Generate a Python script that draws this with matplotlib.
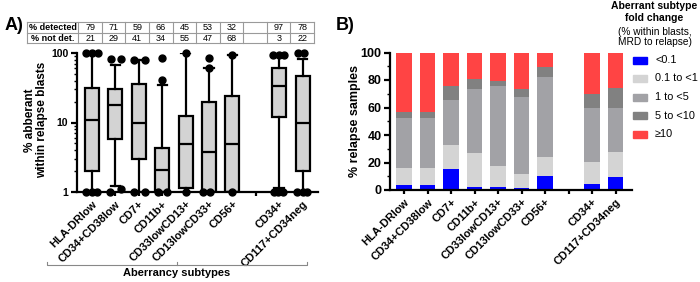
import matplotlib
matplotlib.use("Agg")
import matplotlib.pyplot as plt
import matplotlib.patches as mpatches
import numpy as np

plt.rcParams['font.family'] = ['Liberation Sans', 'DejaVu Sans']

# ---------------- data ----------------
categories = ["HLA-DRlow", "CD34+CD38low", "CD7+", "CD11b+", "CD33lowCD13+",
              "CD13lowCD33+", "CD56+", "", "CD34+", "CD117+CD34neg"]
cat_pos = [0, 1, 2, 3, 4, 5, 6, 8, 9]

pct_detected = ["79", "71", "59", "66", "45", "53", "32", "", "97", "78"]
pct_not_det = ["21", "29", "41", "34", "55", "47", "68", "", "3", "22"]

# box statistics (% aberrant within relapse blasts)
whislo = [1.0, 1.2, 1.0, 1.0, 1.0, 1.0, 1.0, 1.15, 1.0]
q1 = [2.0, 5.7, 3.0, 1.0, 1.14, 1.0, 1.0, 12.1, 2.0]
med = [11.0, 17.8, 9.8, 2.1, 4.9, 3.8, 4.9, 33.5, 9.9]
q3 = [31.0, 30.0, 36.0, 4.3, 12.5, 20.0, 24.0, 60.0, 46.6]
whishi = [100.0, 67.0, 79.0, 35.0, 100.0, 61.0, 95.0, 95.0, 82.0]

# individual points shown
pts_vals = [
    [1, 1, 1, 100, 100, 100],
    [1, 1.1, 82, 82],
    [1, 1, 80, 80],
    [1, 1, 41, 84],
    [1, 100],
    [1, 1, 61, 84],
    [1, 95],
    [1, 1, 1, 95, 95, 95],
    [1, 1, 1, 100, 100],
]
pts_jitter = [
    [-0.25, 0.0, 0.22, -0.25, 0.0, 0.25],
    [-0.22, 0.22, -0.2, 0.22],
    [-0.2, 0.25, -0.2, 0.25],
    [-0.2, 0.2, 0.0, 0.0],
    [0.0, 0.0],
    [-0.25, 0.05, 0.0, 0.0],
    [0.0, 0.0],
    [-0.22, -0.05, 0.17, -0.25, 0.0, 0.2],
    [-0.25, 0.0, 0.2, -0.2, 0.05],
]

# panel B: % relapse samples per fold-change bin
bins = ["<0.1", "0.1 to <1", "1 to <5", "5 to <10", "\u226510"]
lt01 = [3.4, 3.4, 15.0, 2.2, 2.2, 1.2, 10.2, 4.4, 9.2]
b01_1 = [12.6, 12.6, 17.4, 24.4, 15.2, 10.2, 14.0, 16.2, 18.4]
b1_5 = [36.3, 36.3, 33.0, 47.0, 58.1, 55.9, 58.1, 38.7, 31.7]
b5_10 = [4.5, 4.5, 10.1, 6.8, 3.7, 6.1, 7.0, 10.2, 14.8]
ge10 = [43.2, 43.2, 24.5, 19.6, 20.8, 26.6, 10.7, 30.5, 25.9]
bin_colors = ["#0000FF", "#D4D4D4", "#A2A2A6", "#818181", "#FF4444"]

# ---------------- figure ----------------
W, H = 700, 282
fig = plt.figure(figsize=(W / 100, H / 100), dpi=100)


def px_axes(x0, y0, x1, y1):
    return fig.add_axes([x0 / W, 1 - y1 / H, (x1 - x0) / W, (y1 - y0) / H])


lw = 1.6
# ---- Panel A ----
axA = px_axes(76.7, 53, 318, 192)
stats = []
for i in range(len(cat_pos)):
    stats.append(dict(whislo=whislo[i], q1=q1[i], med=med[i], q3=q3[i], whishi=whishi[i]))
axA.bxp(stats, positions=cat_pos, widths=0.6, patch_artist=True, showfliers=False,
        capwidths=0.4,
        boxprops=dict(facecolor="#D3D3D3", edgecolor="black", linewidth=lw),
        whiskerprops=dict(color="black", linewidth=lw),
        capprops=dict(color="black", linewidth=lw),
        medianprops=dict(color="black", linewidth=lw))
for p, vals, jit in zip(cat_pos, pts_vals, pts_jitter):
    axA.plot(np.array(jit) + p, vals, 'o', color='black', markersize=5,
             clip_on=False, zorder=5)
axA.set_yscale('log')
axA.set_ylim(1, 100)
axA.set_xlim(-0.654, 9.66)
axA.set_yticks([1, 10, 100])
axA.set_yticklabels(["1", "10", "100"], fontweight='bold', fontsize=7.5)
axA.set_xticks(range(10))
axA.set_xticklabels(categories, rotation=45, ha='right', rotation_mode='anchor',
                    fontweight='bold', fontsize=8)
for s in ['top', 'right']:
    axA.spines[s].set_visible(False)
for s in ['left', 'bottom']:
    axA.spines[s].set_linewidth(lw)
axA.tick_params(axis='both', which='major', direction='out', length=4, width=lw, pad=2)
axA.tick_params(axis='y', which='minor', direction='out', length=2.5, width=1)
axA.tick_params(axis='x', which='major', length=3)

fig.text(36 / W, 1 - 120 / H, "% abberant\nwithin relapse blasts", rotation=90,
         ha='center', va='center', fontweight='bold', fontsize=8.5, linespacing=1.0)

# bracket below labels
fig.add_artist(plt.Line2D([47 / W, 47 / W, 307 / W, 307 / W],
                          [1 - 262 / H, 1 - 265 / H, 1 - 265 / H, 1 - 262 / H],
                          color='#888888', lw=0.8))
fig.add_artist(plt.Line2D([177 / W, 177 / W], [1 - 265 / H, 1 - 262 / H],
                          color='#888888', lw=0.8))
fig.text(177 / W, 1 - 273 / H, "Aberrancy subtypes", ha='center', va='center',
         fontweight='bold', fontsize=8)

# table
axT = px_axes(76.7, 22.3, 318, 43.3)
axT.set_xlim(axA.get_xlim())
axT.set_ylim(2, 0)
axT.axis('off')
edges = np.linspace(-0.585, 9.49, 11)
left_edge = -2.765
tc = '#9a9a9a'
for yv in [0, 1, 2]:
    axT.plot([left_edge, edges[-1]], [yv, yv], color=tc, lw=0.8, clip_on=False)
for xv in [left_edge] + list(edges):
    axT.plot([xv, xv], [0, 2], color=tc, lw=0.8, clip_on=False)
axT.text((left_edge + edges[0]) / 2, 0.5, "% detected", ha='center', va='center',
         fontweight='bold', fontsize=6.5, clip_on=False)
axT.text((left_edge + edges[0]) / 2, 1.5, "% not det.", ha='center', va='center',
         fontweight='bold', fontsize=6.5, clip_on=False)
for k in range(10):
    cx = (edges[k] + edges[k + 1]) / 2
    axT.text(cx, 0.5, pct_detected[k], ha='center', va='center', fontsize=6.5)
    axT.text(cx, 1.5, pct_not_det[k], ha='center', va='center', fontsize=6.5)

fig.text(5 / W, 1 - 26 / H, "A)", ha='left', va='center', fontweight='bold', fontsize=13)
fig.text(336 / W, 1 - 26 / H, "B)", ha='left', va='center', fontweight='bold', fontsize=13)

# ---- Panel B ----
axB = px_axes(390, 52.5, 632, 190)
series = [lt01, b01_1, b1_5, b5_10, ge10]
bottom = np.zeros(len(cat_pos))
for vals, col in zip(series, bin_colors):
    axB.bar(cat_pos, vals, bottom=bottom, width=0.66, color=col, linewidth=0)
    bottom += np.array(vals)
axB.set_xlim(-0.6, 9.7)
axB.set_ylim(0, 100)
axB.set_yticks(range(0, 101, 20))
axB.set_yticks(range(0, 101, 10), minor=True)
axB.set_yticklabels([str(v) for v in range(0, 101, 20)], fontweight='bold', fontsize=9)
axB.set_xticks(range(10))
axB.set_xticklabels(categories, rotation=45, ha='right', rotation_mode='anchor',
                    fontweight='bold', fontsize=8)
for s in ['top', 'right']:
    axB.spines[s].set_visible(False)
for s in ['left', 'bottom']:
    axB.spines[s].set_linewidth(lw)
axB.tick_params(axis='both', which='major', direction='out', length=4, width=lw, pad=2)
axB.tick_params(axis='y', which='minor', direction='out', length=2.5, width=1)
axB.tick_params(axis='x', which='major', length=3)
fig.text(355 / W, 1 - 121 / H, "% relapse samples", rotation=90, ha='center',
         va='center', fontweight='bold', fontsize=9)

# legend
fig.text(654 / W, 1 - 12 / H, "Aberrant subtype\nfold change", ha='center', va='center',
         fontweight='bold', fontsize=7.5, linespacing=1.15)
fig.text(655 / W, 1 - 37 / H, "(% within blasts,\nMRD to relapse)", ha='center',
         va='center', fontsize=7.3, linespacing=1.1)
ys = [60, 78.3, 97.3, 115.7, 134.3]
for lab, col, yy in zip(bins, bin_colors, ys):
    fig.add_artist(mpatches.Rectangle((633 / W, 1 - (yy + 3.5) / H), 14 / W, 7 / H,
                                      color=col, transform=fig.transFigure))
    fig.text(655 / W, 1 - yy / H, lab, ha='left', va='center', fontsize=7.8)

fig.savefig("out.png", dpi=100)
